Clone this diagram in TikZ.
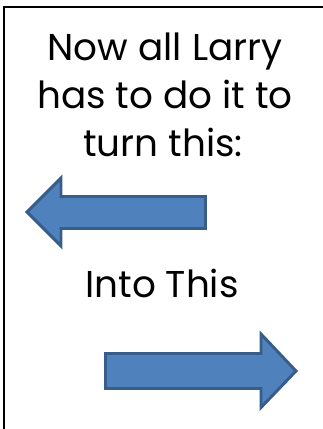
\documentclass[tikz,border=0pt]{standalone}
\usepackage{fontspec}
\setmainfont{Poppins}
\definecolor{arrfill}{HTML}{4F81BD}
\definecolor{arrline}{HTML}{385D8A}
\tikzset{
  txt/.style={anchor=base, inner sep=0pt, font=\fontsize{28}{32}\selectfont},
  blockarrow/.style={fill=arrfill, draw=arrline, line width=2.2pt, line join=miter}
}
\begin{document}
\begin{tikzpicture}[x=0.75pt,y=-0.75pt]
\useasboundingbox (0,0) rectangle (323,429);
\draw[line width=1.5pt] (4,429) -- (4,6.5) -- (323,6.5);
\node[txt] (l1) at (165,60) {Now all Larry};
\node[txt] (l2) at (165,108) {has to do it to};
\node[txt] (l3) at (163,156) {turn this:};
\node[txt] (l4) at (162,297) {Into This};
\draw[blockarrow] (27,212) -- (61,178) -- (61,196.5) -- (205.5,196.5) -- (205.5,228.5) -- (61,228.5) -- (61,246) -- cycle;
\draw[blockarrow] (296,371) -- (261,334) -- (261,353.5) -- (105.5,353.5) -- (105.5,388.5) -- (261,388.5) -- (261,407.5) -- cycle;
\end{tikzpicture}
\end{document}
